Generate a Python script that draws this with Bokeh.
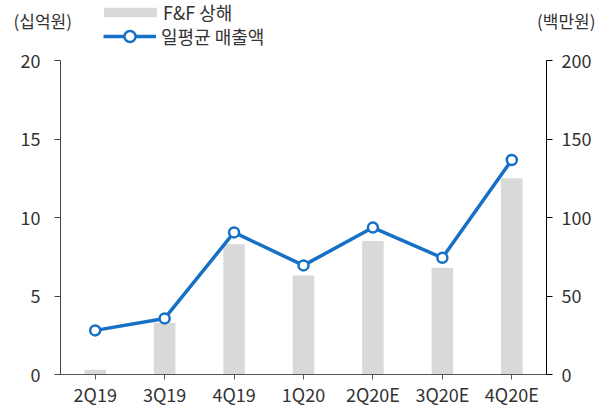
from bokeh.plotting import figure
from bokeh.layouts import column
from bokeh.models import (Range1d, LinearAxis, FactorRange, ColumnDataSource, Legend,
                          LegendItem, Label, FixedTicker)
from bokeh.embed import file_html
from bokeh.resources import INLINE

categories = ["2Q19", "3Q19", "4Q19", "1Q20", "2Q20E", "3Q20E", "4Q20E"]
ff_shanghai = [0.3, 3.3, 8.3, 6.3, 8.5, 6.8, 12.5]          # 십억원 (left)
daily_sales = [28.1, 35.7, 90.5, 69.5, 93.6, 74.3, 136.6]     # 백만원 (right)
left_ticks = [0, 5, 10, 15, 20]
right_ticks = [0, 50, 100, 150, 200]
bar_name = "F&F 상해"
line_name = "일평균 매출액"
left_unit = "(십억원)"
right_unit = "(백만원)"

FONT = "Noto Sans CJK KR"
BLUE = "#1570c6"
GREY = "#d9d9d9"
TXT = "#333333"
HEAD_H = 48
W, H = 607, 409

src = ColumnDataSource(dict(cat=categories, bar=ff_shanghai, line=daily_sales))

# ---------------- main chart ----------------
p = figure(width=W, height=H - HEAD_H, x_range=FactorRange(*categories, range_padding=0),
           y_range=Range1d(0, 20), output_backend="svg", toolbar_location=None,
           min_border_left=60, min_border_right=61, min_border_top=12, min_border_bottom=10)
p.extra_y_ranges = {"right": Range1d(0, 200)}
p.grid.visible = False
p.outline_line_color = None

p.vbar(x="cat", top="bar", width=0.31, source=src, fill_color=GREY, line_color=None)
p.line(x="cat", y="line", source=src, line_color=BLUE, line_width=3.5, y_range_name="right")
p.scatter(x="cat", y="line", source=src, size=10, fill_color="white", line_color=BLUE,
          line_width=2.5, y_range_name="right")

def style_axis(ax, color, standoff, tick_out):
    ax.axis_line_color = color
    ax.major_tick_line_color = color
    ax.major_tick_out = tick_out
    ax.major_tick_in = 0
    ax.minor_tick_line_color = None
    ax.major_label_text_font = FONT
    ax.major_label_text_font_size = "18px"
    ax.major_label_text_color = TXT
    ax.major_label_standoff = standoff

la = p.yaxis[0]
la.ticker = FixedTicker(ticks=left_ticks)
style_axis(la, "#444444", 14, 6)

ra = LinearAxis(y_range_name="right", ticker=FixedTicker(ticks=right_ticks))
style_axis(ra, "#000000", 9, 6)
p.add_layout(ra, "right")

style_axis(p.xaxis[0], "#555555", 1, 5)

# ---------------- header: units and legend ----------------
# the header's ranges lie away from the data, so its renderers only feed the legend swatches
hd = figure(width=W, height=HEAD_H, x_range=Range1d(-2, -1), y_range=Range1d(-2, -1),
            x_axis_type=None, y_axis_type=None, output_backend="svg", toolbar_location=None,
            min_border=0)
hd.grid.visible = False
hd.outline_line_color = None
if "frame_align" in hd.properties():
    hd.frame_align = False
    p.frame_align = False
hb = hd.vbar(x="bar", top="bar", width=0.3, source=src, fill_color=GREY, line_color=None)
hl = hd.line(x="bar", y="line", source=src, line_color=BLUE, line_width=3.5)
hs = hd.scatter(x="bar", y="line", source=src, size=10, fill_color="white", line_color=BLUE,
                line_width=2.5)

def make_legend(items, loc, gw, gh, standoff):
    lg = Legend(items=items, location=loc)
    lg.background_fill_alpha = 0
    lg.border_line_color = None
    lg.padding = 0
    lg.margin = 0
    lg.glyph_width = gw
    lg.glyph_height = gh
    lg.label_height = 20
    lg.label_standoff = standoff
    lg.label_text_font = FONT
    lg.label_text_font_size = "18px"
    lg.label_text_color = TXT
    return lg

hd.add_layout(make_legend([LegendItem(label=bar_name, renderers=[hb])], (97, 23), 66, 12, 0), "center")
hd.add_layout(make_legend([LegendItem(label=line_name, renderers=[hl, hs])], (103, -2), 53, 28, 5), "center")

hd.add_layout(Label(x=13, y=HEAD_H - 20, x_units="screen", y_units="screen", text=left_unit,
                    text_font=FONT, text_font_size="17px", text_color=TXT,
                    text_baseline="middle", text_align="left"))
hd.add_layout(Label(x=595, y=HEAD_H - 20, x_units="screen", y_units="screen", text=right_unit,
                    text_font=FONT, text_font_size="17px", text_color=TXT,
                    text_baseline="middle", text_align="right"))

layout = column(hd, p, spacing=0)
open("out.html", "w").write(file_html(layout, INLINE))
